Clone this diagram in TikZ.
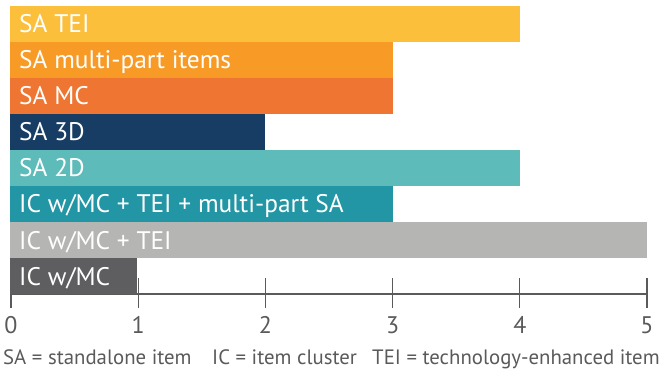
\documentclass[tikz,border=0pt]{standalone}
\usepackage{fontspec}
\setmainfont{PT Sans}
\definecolor{cTEI}{HTML}{FBBF3C}
\definecolor{cMP}{HTML}{F89B26}
\definecolor{cMC}{HTML}{EE7632}
\definecolor{cTD}{HTML}{173D64}
\definecolor{cTWO}{HTML}{5DBBBA}
\definecolor{cIC}{HTML}{2396A5}
\definecolor{cICT}{HTML}{B5B5B4}
\definecolor{cICM}{HTML}{5E5E60}
\definecolor{axisgray}{HTML}{5A5A5C}
\begin{document}
\begin{tikzpicture}[x=1pt,y=-1pt,
  barlabel/.style={anchor=base west,inner sep=0pt,text=white,font=\fontsize{25.4}{25.4}\selectfont},
  ticklabel/.style={anchor=base,inner sep=0pt,text=axisgray,font=\fontsize{24}{24}\selectfont},
  legend/.style={anchor=base west,inner sep=0pt,text=axisgray,font=\fontsize{20.8}{20.8}\selectfont},
  axisline/.style={draw=axisgray,line width=1.3pt}]
\useasboundingbox (0,0) rectangle (663,371);
% axis
\coordinate (a0) at (11,294);
\coordinate (a5) at (647,294);
\draw[axisline] (a0) -- (a5);
\foreach \i in {0,...,5}{
  \coordinate (t\i) at ({11+127.2*\i},294);
  \coordinate (tt\i) at ({11+127.2*\i},278);
  \coordinate (tb\i) at ({11+127.2*\i},308);
  \draw[axisline] (tt\i) -- (tb\i);
  \node[ticklabel] (n\i) at ({11+127.2*\i},333) {\i};
}
% bars
\def\u{127.2}
\fill[cTEI] (10,6) rectangle ({11+4*\u},42);
\fill[cMP] (10,42) rectangle ({11+3*\u},78);
\fill[cMC] (10,78) rectangle ({11+3*\u},114);
\fill[cTD] (10,114) rectangle ({11+2*\u},150);
\fill[cTWO] (10,150) rectangle ({11+4*\u},186);
\fill[cIC] (10,186) rectangle ({11+3*\u},222);
\fill[cICT] (10,222) rectangle ({11+5*\u},258);
\fill[cICM] (10,258) rectangle ({10+1*\u},294);
\node[barlabel] (l1) at (19,33) {SA TEI};
\node[barlabel] (l2) at (19,69) {SA multi-part items};
\node[barlabel] (l3) at (19,105) {SA MC};
\node[barlabel] (l4) at (19,141) {SA 3D};
\node[barlabel] (l5) at (19,177) {SA 2D};
\node[barlabel] (l6) at (19,213) {IC w/MC + TEI + multi-part SA};
\node[barlabel] (l7) at (19,249) {IC w/MC + TEI};
\node[barlabel] (l8) at (19,285) {IC w/MC};
% legend
\node[legend] (g1) at (3,364) {SA = standalone item};
\node[legend] (g2) at (212,364) {IC = item cluster};
\node[legend] (g3) at (372,364) {TEI = technology-enhanced item};
\end{tikzpicture}
\end{document}
